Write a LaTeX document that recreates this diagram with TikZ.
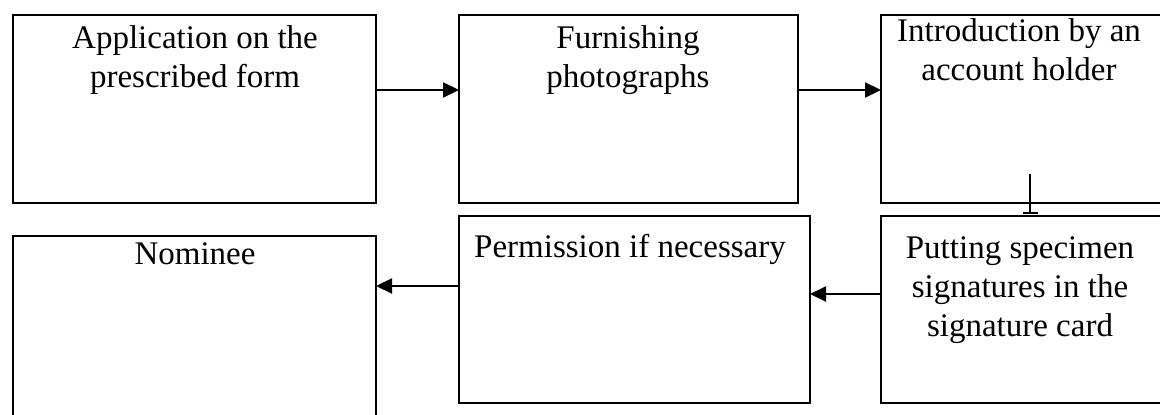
\documentclass[tikz,border=0pt]{standalone}
\usepackage{fontspec}
\setmainfont{Liberation Serif}
\usetikzlibrary{arrows.meta,calc}
\begin{document}
\begin{tikzpicture}[x=1pt,y=-1pt,
 box/.style={draw, line width=2.2pt, rectangle, outer sep=0pt, inner sep=0pt, anchor=north west},
 lbl/.style={anchor=base, font=\fontsize{33}{39}\selectfont, inner sep=0pt},
 arr/.style={line width=2.2pt, -{Triangle[length=16pt,width=15pt]}},
 barline/.style={line width=2.2pt, -{Bar[width=15pt]}}
 ]
\useasboundingbox (0,0) rectangle (1160,415);
\clip (0,0) rectangle (1160,415);
\node[box, minimum width=363pt, minimum height=188pt] (b1) at (13,15) {};
\node[box, minimum width=339pt, minimum height=188pt] (b2) at (459,15) {};
\node[box, minimum width=290pt, minimum height=188pt] (b3) at (881,15) {};
\node[box, minimum width=363pt, minimum height=200pt] (b4) at (13,236) {};
\node[box, minimum width=351pt, minimum height=187pt] (b5) at (459,216) {};
\node[box, minimum width=290pt, minimum height=187pt] (b6) at (881,216) {};

\node[lbl] (t1a) at (195,48) {Application on the};
\node[lbl] (t1b) at (195,87) {prescribed form};
\node[lbl] (t2a) at (628,48) {Furnishing};
\node[lbl] (t2b) at (628,87) {photographs};
\node[lbl] (t3a) at (1019,41) {Introduction by an};
\node[lbl] (t3b) at (1019,80) {account holder};
\node[lbl] (t4) at (195,264) {Nominee};
\node[lbl] (t5) at (630,257) {Permission if necessary};
\node[lbl] (t6a) at (1020,258) {Putting specimen};
\node[lbl] (t6b) at (1020,297) {signatures in the};
\node[lbl] (t6c) at (1020,336) {signature card};

\draw[arr] ($(b1.north east)+(0,75)$) -- ($(b2.north west)+(0,75)$);
\draw[arr] ($(b2.north east)+(0,75)$) -- ($(b3.north west)+(0,75)$);
\draw[arr] ($(b6.north west)+(0,78)$) -- ($(b5.north east)+(0,78)$);
\draw[arr] ($(b5.north west)+(0,70)$) -- ($(b4.north east)+(0,50)$);
\coordinate (v0) at (1030,174);
\draw[barline] (v0) -- ($(b6.north west)+(149,-2)$);
\end{tikzpicture}
\end{document}
